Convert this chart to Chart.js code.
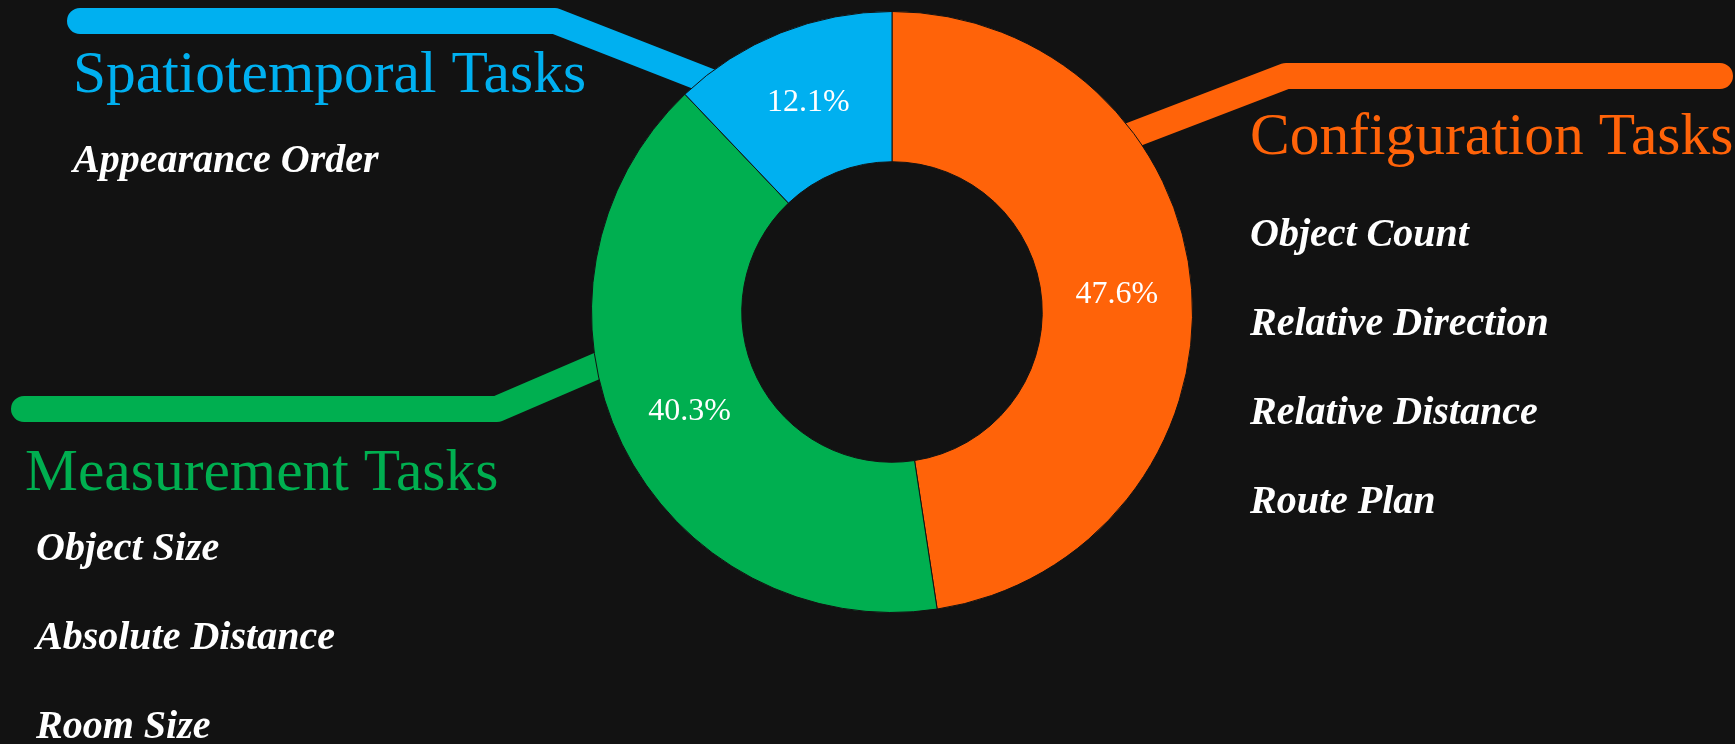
<!DOCTYPE html>
<html>
<head>
<meta charset="utf-8">
<title>Task categories</title>
<script src="https://cdn.jsdelivr.net/npm/chart.js@4.4.1/dist/chart.umd.min.js"></script>
<style>
  html, body { margin: 0; padding: 0; background: #121212; overflow: hidden; }
  #wrap { position: relative; width: 1735px; height: 744px; }
</style>
</head>
<body>
<div id="wrap"><canvas id="tasks-chart" width="1735" height="744"></canvas></div>
<script>
'use strict';

// category shares, clockwise from 12 o'clock
var categories = ['Configuration Tasks', 'Measurement Tasks', 'Spatiotemporal Tasks'];
var shares = [47.6, 40.3, 12.1];
var colors = ['#FF6309', '#00AF50', '#00B0F0'];

var configurationTasks = ['Object Count', 'Relative Direction', 'Relative Distance', 'Route Plan'];
var measurementTasks = ['Object Size', 'Absolute Distance', 'Room Size'];
var spatiotemporalTasks = ['Appearance Order'];

var SERIF = "'Liberation Serif', 'Times New Roman', serif";

// callout blocks: leader line path, heading spot, sub-task list spot
var callouts = [
  {
    tasks: configurationTasks,
    line: [[1720, 76], [1286, 76], [1080, 155]],
    title: { x: 1250, y: 154 },
    list: { x: 1250, y: 246, step: 89 }
  },
  {
    tasks: measurementTasks,
    line: [[24, 409], [497, 409], [690, 326]],
    title: { x: 25, y: 490 },
    list: { x: 36, y: 560, step: 89 }
  },
  {
    tasks: spatiotemporalTasks,
    line: [[80, 21], [555, 21], [770, 105]],
    title: { x: 73, y: 92 },
    list: { x: 73, y: 172, step: 89 }
  }
];

var backgroundFill = {
  id: 'backgroundFill',
  beforeDraw: function(chart) {
    var ctx = chart.ctx;
    ctx.save();
    ctx.fillStyle = '#121212';
    ctx.fillRect(0, 0, chart.width, chart.height);
    ctx.restore();
  }
};

// thick leader lines go under the ring
var leaderLines = {
  id: 'leaderLines',
  beforeDatasetsDraw: function(chart) {
    var ctx = chart.ctx;
    ctx.save();
    ctx.lineWidth = 26;
    ctx.lineCap = 'round';
    ctx.lineJoin = 'round';
    callouts.forEach(function(c, i) {
      ctx.strokeStyle = colors[i];
      ctx.beginPath();
      c.line.forEach(function(p, k) {
        if (k === 0) ctx.moveTo(p[0], p[1]);
        else ctx.lineTo(p[0], p[1]);
      });
      ctx.stroke();
    });
    ctx.restore();
  }
};

var calloutText = {
  id: 'calloutText',
  afterDraw: function(chart) {
    var ctx = chart.ctx;
    ctx.save();
    ctx.textAlign = 'left';
    ctx.textBaseline = 'alphabetic';
    callouts.forEach(function(c, i) {
      ctx.fillStyle = colors[i];
      ctx.font = '59.5px ' + SERIF;
      ctx.fillText(categories[i], c.title.x, c.title.y);

      ctx.fillStyle = '#ffffff';
      ctx.font = 'italic bold 40px ' + SERIF;
      c.tasks.forEach(function(name, k) {
        ctx.fillText(name, c.list.x, c.list.y + k * c.list.step);
      });
    });
    ctx.restore();
  }
};

// percentage text in the middle of each arc
var arcValues = {
  id: 'arcValues',
  afterDatasetsDraw: function(chart) {
    var ctx = chart.ctx;
    var meta = chart.getDatasetMeta(0);
    ctx.save();
    ctx.fillStyle = '#ffffff';
    ctx.font = '32px ' + SERIF;
    ctx.textAlign = 'center';
    ctx.textBaseline = 'middle';
    meta.data.forEach(function(arc, i) {
      var pos = arc.tooltipPosition();
      ctx.fillText(shares[i].toFixed(1) + '%', pos.x, pos.y);
    });
    ctx.restore();
  }
};

var ctx = document.getElementById('tasks-chart').getContext('2d');

new Chart(ctx, {
  type: 'doughnut',
  data: {
    labels: categories,
    datasets: [{
      data: shares,
      backgroundColor: colors,
      borderColor: '#121212',
      borderWidth: 1
    }]
  },
  options: {
    responsive: false,
    animation: false,
    cutout: '50%',
    rotation: 0,
    layout: {
      padding: { top: 11, bottom: 131, left: 591, right: 542 }
    },
    plugins: {
      legend: { display: false },
      tooltip: { enabled: false }
    }
  },
  plugins: [backgroundFill, leaderLines, arcValues, calloutText]
});
</script>
</body>
</html>
